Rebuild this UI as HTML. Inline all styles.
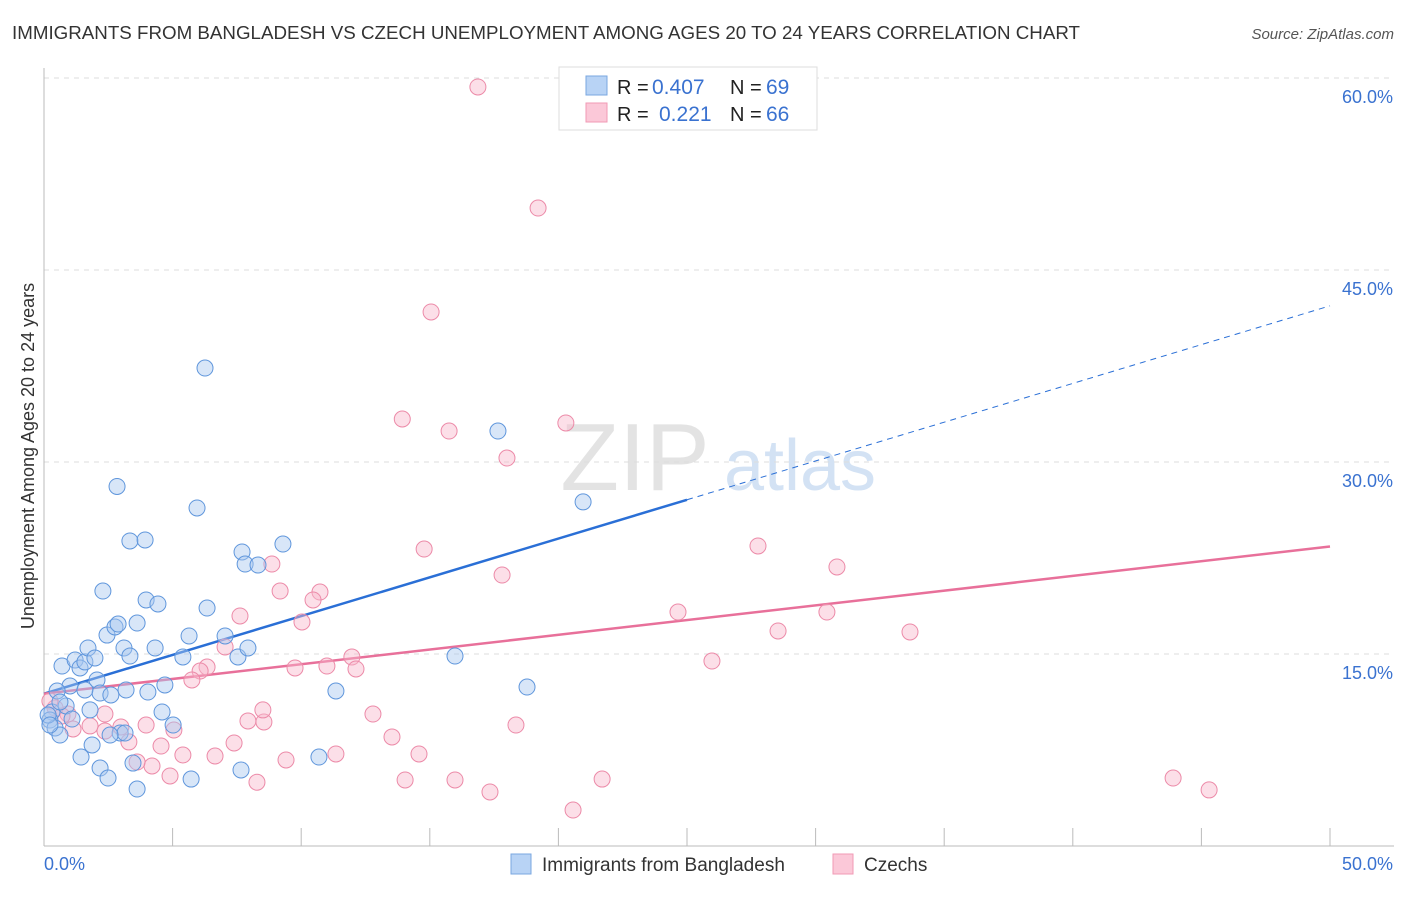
<!DOCTYPE html>
<html><head><meta charset="utf-8"><style>
body{margin:0;background:#fff;font-family:"Liberation Sans",sans-serif;}
svg text{font-family:"Liberation Sans",sans-serif;}
</style></head><body>
<svg id="chart" width="1406" height="892" xmlns="http://www.w3.org/2000/svg">
<text x="12" y="39" font-size="18" fill="#333" textLength="1068" lengthAdjust="spacingAndGlyphs">IMMIGRANTS FROM BANGLADESH VS CZECH UNEMPLOYMENT AMONG AGES 20 TO 24 YEARS CORRELATION CHART</text>
<text x="1394" y="39" font-size="15" fill="#555" font-style="italic" text-anchor="end">Source: ZipAtlas.com</text>
<g><text x="635" y="490" font-size="96" fill="#ddd" font-family="Liberation Serif" text-anchor="middle" opacity="0.8">ZIP</text><text x="800" y="490" font-size="72" fill="#c9dcf2" text-anchor="middle" opacity="0.8">atlas</text></g>
<g id="grid"></g><g id="axes"></g><g id="lines"></g><g id="pts"></g>
<text transform="translate(34,456) rotate(-90)" font-size="18" fill="#333" text-anchor="middle">Unemployment Among Ages 20 to 24 years</text>
<g>
<rect x="559" y="67" width="258" height="63" fill="#fff" stroke="#ddd"/>
<rect x="586" y="76" width="21" height="19" fill="#b8d3f5" stroke="#7aa7e0"/>
<rect x="586" y="103" width="21" height="19" fill="#fbc8d8" stroke="#f09ab5"/>
<text x="617" y="94" font-size="20" fill="#222">R =</text><text x="652" y="94" font-size="21" fill="#3a72d0">0.407</text>
<text x="730" y="94" font-size="20" fill="#222">N =</text><text x="766" y="94" font-size="21" fill="#3a72d0">69</text>
<text x="617" y="121" font-size="20" fill="#222">R =</text><text x="659" y="121" font-size="21" fill="#3a72d0">0.221</text>
<text x="730" y="121" font-size="20" fill="#222">N =</text><text x="766" y="121" font-size="21" fill="#3a72d0">66</text>
</g>
<g>
<rect x="511" y="854" width="20" height="20" fill="#b8d3f5" stroke="#7aa7e0"/>
<text x="542" y="871" font-size="19" fill="#333">Immigrants from Bangladesh</text>
<rect x="833" y="854" width="20" height="20" fill="#fbc8d8" stroke="#f09ab5"/>
<text x="864" y="871" font-size="19" fill="#333">Czechs</text>
</g>
</svg>
<script>
const yTicks=[15,30,45,60];
const xTickLabels=["0.0%","50.0%"];
const blueLine=[11.9,42.2];
const pinkLine=[11.9,23.4];
const blueX=[0.31,0.23,0.43,0.62,0.16,0.7,1.01,1.21,1.4,1.59,1.71,1.98,2.06,2.18,1.79,1.87,1.44,2.18,2.49,2.29,2.45,2.76,2.88,2.84,3.11,3.34,3.19,2.6,2.96,3.15,3.62,3.97,4.04,4.32,4.43,3.34,3.93,4.59,4.7,5.02,5.4,5.64,5.95,6.34,6.26,7.04,7.54,7.7,7.82,7.93,8.32,9.29,11.35,10.69,7.66,5.72,3.62,3.46,15.98,17.65,20.96,18.78,2.57,0.86,0.51,1.09,0.23,0.62,1.59];
const blueY=[10.47,9.84,9.22,8.67,10.23,14.06,12.5,14.53,13.91,14.38,15.47,14.69,12.97,11.95,10.63,7.89,6.95,6.09,5.31,19.92,16.48,17.11,17.34,28.09,15.47,14.84,12.19,11.8,8.83,8.83,17.42,19.22,12.03,15.47,18.91,23.83,23.91,10.47,12.58,9.45,14.77,16.41,26.41,18.59,37.34,16.41,14.77,22.97,22.03,15.47,21.95,23.59,12.11,6.95,5.94,5.23,4.45,6.48,14.84,32.42,26.88,12.42,8.67,10.94,12.11,9.92,9.45,11.25,12.19];
const pinkX=[16.87,19.21,15.05,13.93,15.75,18.0,20.29,14.78,17.81,9.18,10.73,10.46,10.03,8.86,7.62,7.04,6.34,6.07,5.75,9.76,11.0,11.97,12.13,12.79,13.53,14.58,14.04,15.98,17.34,20.57,21.7,18.35,24.65,25.97,27.76,28.54,30.44,30.83,33.67,43.9,45.3,8.55,8.51,7.93,7.39,8.28,9.41,11.35,6.65,5.4,4.9,4.2,4.55,3.97,5.05,3.3,2.99,3.62,2.37,1.79,1.13,0.93,0.43,0.7,0.23,2.37];
const pinkY=[59.3,49.84,41.72,33.36,32.42,30.31,33.05,23.2,21.17,19.92,19.84,19.22,17.5,22.03,17.97,15.55,13.98,13.67,12.97,13.91,14.06,14.77,13.83,10.31,8.52,7.19,5.16,5.16,4.22,2.81,5.23,9.45,18.28,14.45,23.44,16.8,18.28,21.8,16.72,5.31,4.38,9.69,10.63,9.77,8.05,4.98,6.72,7.19,7.03,7.11,5.47,6.25,7.81,9.45,9.06,8.13,9.3,6.56,8.98,9.38,9.14,10.31,10.78,10.16,11.33,10.31];
const NS="http://www.w3.org/2000/svg";
const X0=44,X1=1330,YB=846,SY=12.8;
const sx=v=>X0+(X1-X0)*v/50, sy=v=>YB-v*SY;
function mk(tag,attrs,parent){const e=document.createElementNS(NS,tag);for(const k in attrs)e.setAttribute(k,attrs[k]);document.getElementById(parent).appendChild(e);return e;}
yTicks.forEach(t=>{
 const g=mk('line',{x1:X0,x2:1394,y1:sy(t),y2:sy(t),stroke:'#ddd','stroke-dasharray':'5,5'},'grid');
 
 
 const tx=mk('text',{x:1393,y:sy(t)+25,'font-size':18,fill:'#3a72d0','text-anchor':'end'},'grid');
 tx.textContent=t.toFixed(1)+'%';
 
 
});
mk('line',{x1:X0,x2:X0,y1:68,y2:YB,stroke:'#bbb'},'axes');
mk('line',{x1:X0,x2:1394,y1:YB,y2:YB,stroke:'#bbb'},'axes');
for(let i=0;i<=10;i++){const t=mk('line',{x1:sx(i*5),x2:sx(i*5),y1:YB,y2:YB-18,stroke:'#bbb'},'axes');
 
 }
const xl0=mk('text',{x:44,y:870,'font-size':18,fill:'#3a72d0'},'axes');xl0.textContent=xTickLabels[0];


const xl1=mk('text',{x:1393,y:870,'font-size':18,fill:'#3a72d0','text-anchor':'end'},'axes');xl1.textContent=xTickLabels[1];


function pt(xs,ys,fill,stroke,name){xs.forEach((x,i)=>{const c=mk('circle',{cx:sx(x),cy:sy(ys[i]),r:8,fill:fill,'fill-opacity':0.45,stroke:stroke,'stroke-width':1},'pts');
 
 });}
pt(pinkX,pinkY,'#f9b9cc','#ec8aa8','point-czechs');
pt(blueX,blueY,'#a9c8f0','#5f96dc','point-bangladesh');
const bm=blueLine[0]+(blueLine[1]-blueLine[0])*0.5;
const b1=mk('line',{x1:sx(0),y1:sy(blueLine[0]),x2:sx(25),y2:sy(bm),stroke:'#2a6fd6','stroke-width':2.5},'lines');


const b2=mk('line',{x1:sx(25),y1:sy(bm),x2:sx(50),y2:sy(blueLine[1]),stroke:'#2a6fd6','stroke-width':1,'stroke-dasharray':'6,5'},'lines');


const p1=mk('line',{x1:sx(0),y1:sy(pinkLine[0]),x2:sx(50),y2:sy(pinkLine[1]),stroke:'#e8709a','stroke-width':2.5},'lines');


</script>
</body></html>
